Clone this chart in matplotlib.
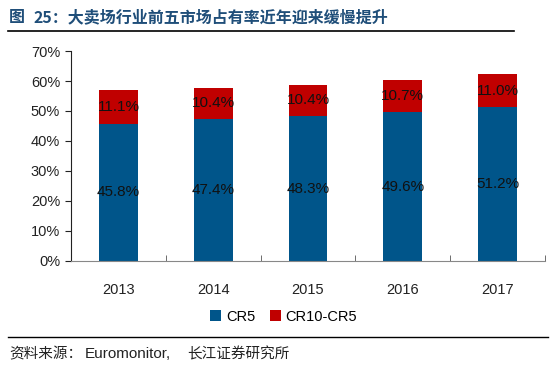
import matplotlib.pyplot as plt
import numpy as np

plt.rcParams['font.family'] = ['Liberation Sans', 'Noto Sans CJK SC', 'DejaVu Sans']

years = ['2013', '2014', '2015', '2016', '2017']
cr5 = [45.8, 47.4, 48.3, 49.6, 51.2]
cr10_cr5 = [11.1, 10.4, 10.4, 10.7, 11.0]

blue = '#00558A'
red = '#C00000'

fig = plt.figure(figsize=(5.56, 3.67), dpi=100)
ax = fig.add_axes([0.128, 0.289, 0.852, 0.572])

x = np.arange(len(years))
b1 = ax.bar(x, cr5, width=0.41, color=blue, label='CR5')
b2 = ax.bar(x, cr10_cr5, width=0.41, bottom=cr5, color=red, label='CR10-CR5')

for i in range(len(years)):
    ax.text(x[i], cr5[i] / 2, f'{cr5[i]:.1f}%', ha='center', va='center', fontsize=11, color='#111111')
    ax.text(x[i], cr5[i] + cr10_cr5[i] / 2, f'{cr10_cr5[i]:.1f}%', ha='center', va='center', fontsize=11, color='#111111')

ax.set_xlim(-0.5, len(years) - 0.5)
ax.set_ylim(0, 70)
ax.set_yticks(range(0, 71, 10))
ax.set_yticklabels([f'{v}%' for v in range(0, 71, 10)], fontsize=10.5, color='#222222')
ax.set_xticks(x)
ax.set_xticklabels(years, fontsize=10.5, color='#222222')
ax.set_xticks(np.arange(-0.5, len(years), 1), minor=True)
ax.tick_params(axis='x', which='major', length=0, pad=16)
ax.tick_params(axis='x', which='minor', length=4, direction='in', color='#555555')
ax.tick_params(axis='y', length=4, color='#222222', pad=4)
for s in ['top', 'right']:
    ax.spines[s].set_visible(False)
ax.spines['left'].set_color('#222222')
ax.spines['bottom'].set_color('#888888')

fig.legend(handles=[b1, b2], loc='center', bbox_to_anchor=(0.51, 0.137), ncol=2, frameon=False,
           fontsize=10.5, handlelength=0.8, handleheight=0.8, handletextpad=0.3, columnspacing=1.0)

cjk = ['Noto Sans CJK SC', 'DejaVu Sans']
fig.text(0.015, 0.953, '图', fontsize=11.5, color='#1F4E79', fontweight='bold', va='center', family=cjk)
fig.text(0.060, 0.953, '25：大卖场行业前五市场占有率近年迎来缓慢提升', fontsize=11.5, color='#1F4E79',
         fontweight='bold', va='center', family=cjk)
fig.add_artist(plt.Line2D([0.014, 0.924], [0.915, 0.915], color='black', lw=1.2))
fig.add_artist(plt.Line2D([0.014, 0.986], [0.082, 0.082], color='black', lw=1.0))
fig.text(0.017, 0.035, '资料来源：', fontsize=10.5, color='#222222', va='center', family=cjk)
fig.text(0.153, 0.035, 'Euromonitor,', fontsize=11, color='#222222', va='center')
fig.text(0.336, 0.035, '长江证券研究所', fontsize=10.5, color='#222222', va='center', family=cjk)

plt.savefig('out.png', dpi=100)
